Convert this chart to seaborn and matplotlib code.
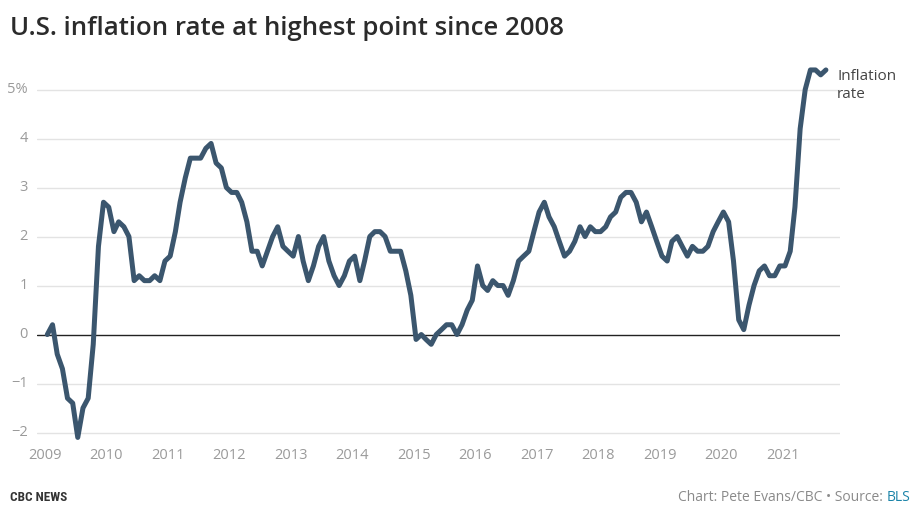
import pandas as pd
import matplotlib.pyplot as plt
import matplotlib.dates as mdates
import seaborn as sns

# Monthly year-over-year CPI change (%), Jan 2009 - Sep 2021
rate_2009 = [0.0, 0.2, -0.4, -0.7, -1.3, -1.4, -2.1, -1.5, -1.3, -0.2, 1.8, 2.7]
rate_2010 = [2.6, 2.1, 2.3, 2.2, 2.0, 1.1, 1.2, 1.1, 1.1, 1.2, 1.1, 1.5]
rate_2011 = [1.6, 2.1, 2.7, 3.2, 3.6, 3.6, 3.6, 3.8, 3.9, 3.5, 3.4, 3.0]
rate_2012 = [2.9, 2.9, 2.7, 2.3, 1.7, 1.7, 1.4, 1.7, 2.0, 2.2, 1.8, 1.7]
rate_2013 = [1.6, 2.0, 1.5, 1.1, 1.4, 1.8, 2.0, 1.5, 1.2, 1.0, 1.2, 1.5]
rate_2014 = [1.6, 1.1, 1.5, 2.0, 2.1, 2.1, 2.0, 1.7, 1.7, 1.7, 1.3, 0.8]
rate_2015 = [-0.1, 0.0, -0.1, -0.2, 0.0, 0.1, 0.2, 0.2, 0.0, 0.2, 0.5, 0.7]
rate_2016 = [1.4, 1.0, 0.9, 1.1, 1.0, 1.0, 0.8, 1.1, 1.5, 1.6, 1.7, 2.1]
rate_2017 = [2.5, 2.7, 2.4, 2.2, 1.9, 1.6, 1.7, 1.9, 2.2, 2.0, 2.2, 2.1]
rate_2018 = [2.1, 2.2, 2.4, 2.5, 2.8, 2.9, 2.9, 2.7, 2.3, 2.5, 2.2, 1.9]
rate_2019 = [1.6, 1.5, 1.9, 2.0, 1.8, 1.6, 1.8, 1.7, 1.7, 1.8, 2.1, 2.3]
rate_2020 = [2.5, 2.3, 1.5, 0.3, 0.1, 0.6, 1.0, 1.3, 1.4, 1.2, 1.2, 1.4]
rate_2021 = [1.4, 1.7, 2.6, 4.2, 5.0, 5.4, 5.4, 5.3, 5.4]

years = list(range(2009, 2022))
y_ticks = [-2, -1, 0, 1, 2, 3, 4, 5]
y_labels = ["\u22122", "\u22121", "0", "1", "2", "3", "4", "5%"]

values = (rate_2009 + rate_2010 + rate_2011 + rate_2012 + rate_2013 + rate_2014
          + rate_2015 + rate_2016 + rate_2017 + rate_2018 + rate_2019 + rate_2020
          + rate_2021)
# monthly values plotted at mid-month
df = pd.DataFrame({
    "date": pd.date_range("2009-01-01", periods=len(values), freq="MS") + pd.Timedelta(days=14),
    "rate": values,
})

sns.set_style("white")
plt.rcParams["font.family"] = ["Open Sans", "DejaVu Sans"]

LINE = "#3b566e"
GREY = "#9a9a9a"

fig = plt.figure(figsize=(9.21, 5.22), dpi=100)
ax = fig.add_axes([0.0402, 0.1573, 0.8719, 0.7134])

sns.lineplot(data=df, x="date", y="rate", ax=ax, color=LINE, linewidth=3.6,
             solid_joinstyle="round", solid_capstyle="round", clip_on=False, zorder=3)

for t in y_ticks:
    if t == 0:
        ax.axhline(0, color="#222222", linewidth=1.0, zorder=2)
    else:
        ax.axhline(t, color="#e3e3e3", linewidth=1.0, zorder=1)

ax.set_ylim(-2.15, 5.45)
ax.set_xlim(pd.Timestamp("2008-11-15"), pd.Timestamp("2021-12-08"))
ax.set_yticks(y_ticks)
ax.set_yticklabels(y_labels)
ax.set_xticks([pd.Timestamp(f"{y}-01-01") for y in years])
ax.xaxis.set_major_formatter(mdates.DateFormatter("%Y"))
ax.tick_params(axis="both", length=0, labelsize=10.5, labelcolor=GREY)
ax.tick_params(axis="y", pad=6.5)
ax.tick_params(axis="x", pad=6)
for lbl in ax.get_yticklabels():
    lbl.set_verticalalignment("center")
ax.set_xlabel("")
ax.set_ylabel("")
sns.despine(ax=ax, left=True, bottom=True)

# line label
ax.annotate("Inflation\nrate", xy=(df["date"].iloc[-1], df["rate"].iloc[-1]),
            xytext=(8, 1), textcoords="offset points", ha="left", va="top",
            fontsize=11, color="#444444", linespacing=1.3, annotation_clip=False)

fig.text(0.011, 0.945, "U.S. inflation rate at highest point since 2008",
         fontsize=18.5, fontweight="semibold", color="#2b2b2b", va="center")
fig.text(0.011, 0.047, "CBC NEWS", fontsize=9.5, fontweight="bold",
         color="#333333", va="center", family=["Roboto Condensed", "Liberation Sans Narrow", "Open Sans"])

src = fig.text(0.988, 0.047, "BLS", fontsize=10, color="#1a83a8", ha="right", va="center")
fig.canvas.draw()
bb = src.get_window_extent()
fig.text(bb.x0 / fig.bbox.width, 0.047, "Chart: Pete Evans/CBC \u2022 Source: ",
         fontsize=10, color="#8a8a8a", ha="right", va="center")

fig.savefig("out.png", dpi=100)
